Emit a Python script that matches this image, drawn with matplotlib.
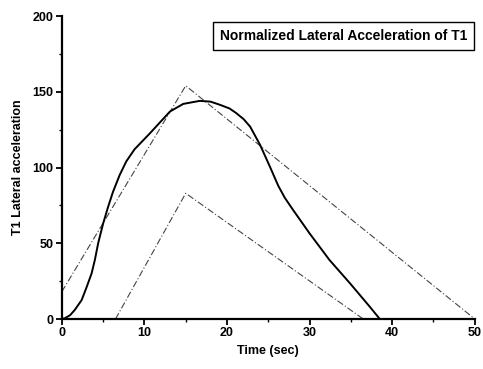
import matplotlib
matplotlib.use("Agg")
import matplotlib.pyplot as plt
from matplotlib.ticker import MultipleLocator

plt.rcParams['font.family'] = ['Liberation Sans', 'DejaVu Sans']
plt.rcParams['font.weight'] = 'bold'

# Data
curve_t = [0, 0.36, 1.0, 1.57, 2.4, 3.0, 3.6, 4.0, 4.4, 5.0, 5.6, 6.2, 7.0, 7.8, 8.8,
           10.65, 12.0, 13.1, 14.7, 16.7, 18.0, 19.1, 20.3, 21.1, 22.0, 22.8, 24.0, 25.2,
           26.2, 27.0, 28.0, 30.0, 32.4, 34.9, 37.3, 38.5]
curve_y = [0, 0.5, 2.5, 6, 12.5, 21, 30, 39, 50, 63, 74, 84, 95, 104, 112,
           122.5, 130.5, 137, 142, 144, 143.5, 141.5, 139, 136, 132, 127, 115, 100.5,
           88, 80, 72, 56.5, 39, 23.5, 8, 0]
big_t = [0, 15, 50]
big_y = [18, 154, 0]
small_t = [6.5, 15, 36.5]
small_y = [0, 83, 0]
title_text = "Normalized Lateral Acceleration of T1"

fig = plt.figure(figsize=(4.83, 3.69), dpi=100)
ax = fig.add_axes([0.128, 0.1355, 0.855, 0.821])

ax.plot(big_t, big_y, color='#444444', lw=0.8, ls=(0, (6, 2, 1, 2)))
ax.plot(small_t, small_y, color='#444444', lw=0.8, ls=(0, (6, 2, 1, 2)))
ax.plot(curve_t, curve_y, color='black', lw=1.4)

ax.set_xlim(0, 50)
ax.set_ylim(0, 200)
ax.xaxis.set_major_locator(MultipleLocator(10))
ax.xaxis.set_minor_locator(MultipleLocator(5))
ax.yaxis.set_major_locator(MultipleLocator(50))
ax.yaxis.set_minor_locator(MultipleLocator(25))
for s in ['top', 'right']:
    ax.spines[s].set_visible(False)
for s in ['left', 'bottom']:
    ax.spines[s].set_linewidth(1.6)
ax.tick_params(which='major', direction='out', length=4, width=1.3, labelsize=9, pad=2)
ax.tick_params(which='minor', direction='out', length=2.5, width=1.0)
for lab in ax.get_xticklabels() + ax.get_yticklabels():
    lab.set_fontweight('bold')

ax.set_xlabel("Time (sec)", fontsize=9, fontweight='bold', labelpad=4)
ax.set_ylabel("T1 Lateral acceleration", fontsize=9, fontweight='bold', labelpad=6)

ax.text(0.982, 0.935, title_text, transform=ax.transAxes, ha='right', va='center',
        fontsize=10, fontweight='bold',
        bbox=dict(boxstyle='square,pad=0.5', facecolor='white', edgecolor='black', lw=1.0))

fig.savefig("out.png", dpi=100)
